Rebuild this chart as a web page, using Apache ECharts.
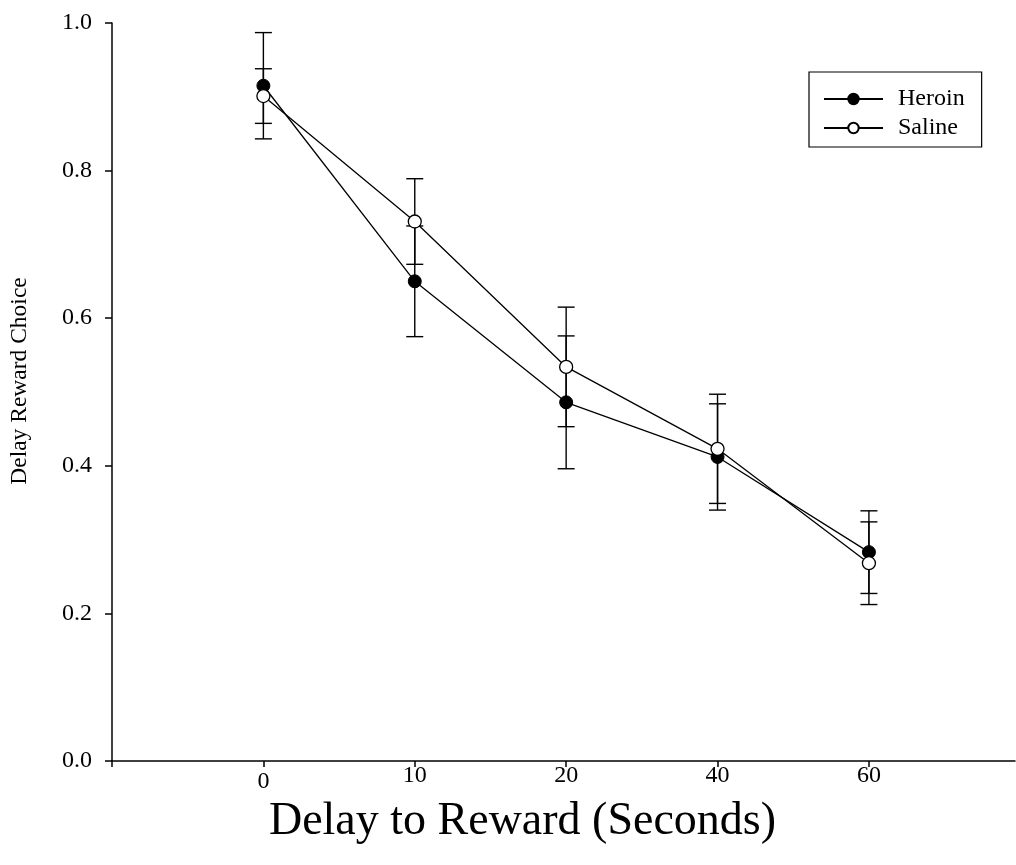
<!DOCTYPE html>
<html>
<head>
<meta charset="utf-8">
<script src="https://cdn.jsdelivr.net/npm/echarts@6/dist/echarts.min.js"></script>
<style>
  html, body { margin: 0; padding: 0; background: #fff; }
  #chart { width: 1016px; height: 865px; }
</style>
</head>
<body>
<div id="chart"></div>
<script>
// Delay conditions (seconds) shown on the x axis
const delayLabels = ['0', '10', '20', '40', '60'];

// Mean proportion of delayed-reward choices
const heroinMean = [0.915, 0.650, 0.486, 0.412, 0.283];
const salineMean = [0.901, 0.731, 0.534, 0.423, 0.268];

// Standard error of the mean for each group
const heroinErr = [0.072, 0.075, 0.090, 0.072, 0.056];
const salineErr = [0.037, 0.058, 0.081, 0.074, 0.056];

// Y-axis tick labels
const yTicks = ['0.0', '0.2', '0.4', '0.6', '0.8', '1.0'];

const FONT = '"Liberation Serif", "Times New Roman", serif';

const pointData = means => means.map((v, i) => [i, v]);
const barData = (means, errs) => means.map((v, i) => [i, v - errs[i], v + errs[i]]);

function renderErrorBar(params, api) {
  const x = api.value(0);
  const lo = api.coord([x, api.value(1)]);
  const hi = api.coord([x, api.value(2)]);
  const half = 8.5;
  const style = { stroke: '#000', lineWidth: 1.4 };
  return {
    type: 'group',
    children: [
      { type: 'line', shape: { x1: hi[0], y1: hi[1], x2: lo[0], y2: lo[1] }, style },
      { type: 'line', shape: { x1: hi[0] - half, y1: hi[1], x2: hi[0] + half, y2: hi[1] }, style },
      { type: 'line', shape: { x1: lo[0] - half, y1: lo[1], x2: lo[0] + half, y2: lo[1] }, style }
    ]
  };
}

const chart = echarts.init(document.getElementById('chart'), null, { renderer: 'canvas' });

chart.setOption({
  backgroundColor: '#fff',
  animation: false,
  grid: { left: 112, right: 1, top: 23, bottom: 104, containLabel: false },
  legend: {
    orient: 'vertical',
    left: 809,
    top: 72,
    padding: [15, 17, 7, 14],
    itemGap: 5,
    itemWidth: 59,
    itemHeight: 13,
    borderColor: '#000',
    borderWidth: 1.2,
    backgroundColor: '#fff',
    textStyle: { fontFamily: FONT, fontSize: 24, lineHeight: 20, color: '#000', padding: [0, 0, 0, 10] },
    data: ['Heroin', 'Saline']
  },
  xAxis: {
    type: 'value',
    min: -1,
    max: 4.965,
    interval: 1,
    name: 'Delay to Reward (Seconds)',
    nameLocation: 'middle',
    nameGap: 23,
    nameTextStyle: { fontFamily: FONT, fontSize: 46, color: '#000', padding: [0, 82, 0, 0] },
    axisLine: { onZero: false, lineStyle: { color: '#000', width: 1.5 } },
    axisTick: { customValues: [-1, 0, 1, 2, 3, 4], length: 6, lineStyle: { color: '#000', width: 1.5 } },
    axisLabel: {
      customValues: [0, 1, 2, 3, 4],
      margin: 3,
      fontFamily: FONT,
      fontSize: 24,
      color: '#000',
      formatter: v => {
        const i = Math.round(v);
        return i === 0 ? '{low|' + delayLabels[i] + '}' : delayLabels[i];
      },
      rich: { low: { fontFamily: FONT, fontSize: 24, color: '#000', padding: [6, 0, 0, 0] } }
    },
    splitLine: { show: false }
  },
  yAxis: {
    type: 'value',
    min: 0,
    max: 1,
    interval: 0.2,
    name: 'Delay Reward Choice',
    nameLocation: 'middle',
    nameRotate: 90,
    nameGap: 80,
    nameTextStyle: { fontFamily: FONT, fontSize: 23.5, color: '#000', padding: [0, 0, 0, 22] },
    axisLine: { show: true, onZero: false, lineStyle: { color: '#000', width: 1.5 } },
    axisTick: { show: true, length: 7, lineStyle: { color: '#000', width: 1.5 } },
    axisLabel: {
      margin: 20,
      fontFamily: FONT,
      fontSize: 24,
      color: '#000',
      formatter: v => yTicks[Math.round(v * 5)]
    },
    splitLine: { show: false }
  },
  series: [
    {
      name: 'Heroin error',
      type: 'custom',
      renderItem: renderErrorBar,
      data: barData(heroinMean, heroinErr),
      encode: { x: 0, y: [1, 2] },
      z: 1,
      silent: true
    },
    {
      name: 'Saline error',
      type: 'custom',
      renderItem: renderErrorBar,
      data: barData(salineMean, salineErr),
      encode: { x: 0, y: [1, 2] },
      z: 1,
      silent: true
    },
    {
      name: 'Heroin',
      type: 'line',
      data: pointData(heroinMean),
      symbol: 'circle',
      symbolSize: 13,
      lineStyle: { color: '#000', width: 1.3 },
      itemStyle: { color: '#000', borderColor: '#000', borderWidth: 1 },
      z: 3
    },
    {
      name: 'Saline',
      type: 'line',
      data: pointData(salineMean),
      symbol: 'circle',
      symbolSize: 13,
      lineStyle: { color: '#000', width: 1.3 },
      itemStyle: { color: '#fff', borderColor: '#000', borderWidth: 1.3 },
      z: 4
    }
  ]
});
</script>
</body>
</html>
